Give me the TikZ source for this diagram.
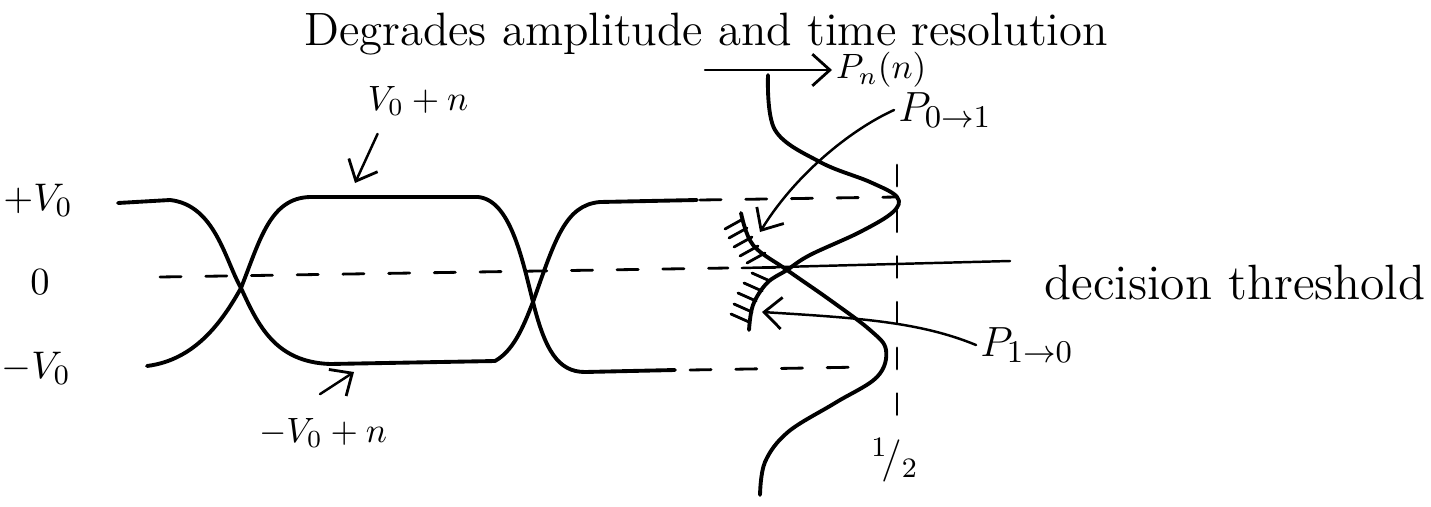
\documentclass[tikz,border=0pt]{standalone}
\usetikzlibrary{arrows.meta,calc}
\begin{document}
\begin{tikzpicture}[x=0.01cm,y=-0.01cm, line cap=round, line join=round,
  wave/.style={line width=1.1pt},
  guide/.style={line width=0.8pt, dash pattern=on 6pt off 7pt},
  thinline/.style={line width=0.7pt},
  arr/.style={line width=0.7pt, -{Straight Barb[length=5pt,width=9pt,line width=0.8pt]}},
  hatch/.style={line width=0.8pt},
  lbl/.style={inner sep=1pt, font=\fontsize{13}{15}\selectfont},
  mlbl/.style={inner sep=1pt, font=\fontsize{11}{13}\selectfont}]
\useasboundingbox (0,0) rectangle (1431,506);

% labels
\node[lbl, font=\fontsize{13.3}{16}\selectfont] (title) at (706,34) {Degrades amplitude and time resolution};
\node[mlbl, font=\fontsize{10}{12}\selectfont, anchor=west] (pn) at (832,70) {$P_n(n)$};
\node[mlbl, font=\fontsize{13}{15}\selectfont] (p01) at (945,110) {$P_{0\to 1}$};
\node[mlbl] (vplus) at (38,200) {$+V_0$};
\node[mlbl] (zero) at (40,282) {$0$};
\node[mlbl] (vminus) at (36,368) {$-V_0$};
\node[mlbl, font=\fontsize{10}{12}\selectfont] (vn) at (418,101) {$V_0+n$};
\node[mlbl, font=\fontsize{10}{12}\selectfont] (mvn) at (323,433) {$-V_0+n$};
\node[mlbl, font=\fontsize{12}{14}\selectfont] (half) at (895,460) {${}^1\!/{}_2$};
\node[lbl, font=\fontsize{14.1}{17}\selectfont] (thr) at (1235,283) {decision threshold};
\node[mlbl, font=\fontsize{13}{15}\selectfont] (p10) at (1027,345) {$P_{1\to 0}$};

% eye diagram
\draw[wave] (118,203) -- (170,200) .. controls (215,205) and (225,260) .. (241,288)
  .. controls (258,325) and (275,362) .. (330,364) -- (495,361)
  .. controls (515,350) and (525,322) .. (533,302)
  .. controls (555,240) and (565,205) .. (600,202) -- (697,200);
\draw[wave] (147,366) .. controls (195,360) and (222,322) .. (241,288)
  .. controls (260,240) and (270,198) .. (310,197) -- (478,197)
  .. controls (510,200) and (522,258) .. (533,302)
  .. controls (545,350) and (558,372) .. (585,372) -- (675,370);

% guide lines
\draw[guide] (160,277) -- (728,268);
\draw[thinline] (742,268) -- (1010,261);
\draw[guide] (700,200) -- (897,197);
\draw[guide] (690,370) -- (865,367);
\draw[guide] (897,165) -- (897,418);

% distributions
\draw[wave] plot[smooth, tension=0.6] coordinates {(768,75) (775,130) (820,162) (870,182) (897,197) (893,212) (860,232) (810,255) (787,270) (767,283) (753,305) (749,330)};
\draw[wave] plot[smooth, tension=0.6] coordinates {(741,213) (753,245) (787,270) (830,300) (870,330) (886,350) (877,377) (835,403) (788,432) (765,462) (760,495)};

% hatching
\foreach \x/\y in {742/222, 746/231, 751/240, 757/249, 764/256}
  \draw[hatch] (\x-17,\y+7) -- (\x+1,\y-3);
\draw[hatch] (742,268) -- (775,268);
\foreach \x/\y in {770/281, 762/291, 756/301, 752/312, 749/322}
  \draw[hatch] (\x-18,\y-8) -- (\x,\y);

% connectors
\coordinate (pnstart) at (705,70);
\draw[arr] (pnstart) -- (pn.west);
\coordinate (p01tip) at (760,232);
\draw[arr] (p01.west) .. controls (850,130) and (795,175) .. (p01tip);
\coordinate (p10tip) at (762,312);
\draw[arr] (p10.west) .. controls (920,322) and (860,318) .. (p10tip);
\coordinate (vntip) at (355,183);
\draw[arr] ($(vn.south west)+(14,14)$) -- (vntip);
\coordinate (mvntip) at (354,372);
\draw[arr] ($(mvn.north)+(-3,-20)$) -- (mvntip);
\end{tikzpicture}
\end{document}
